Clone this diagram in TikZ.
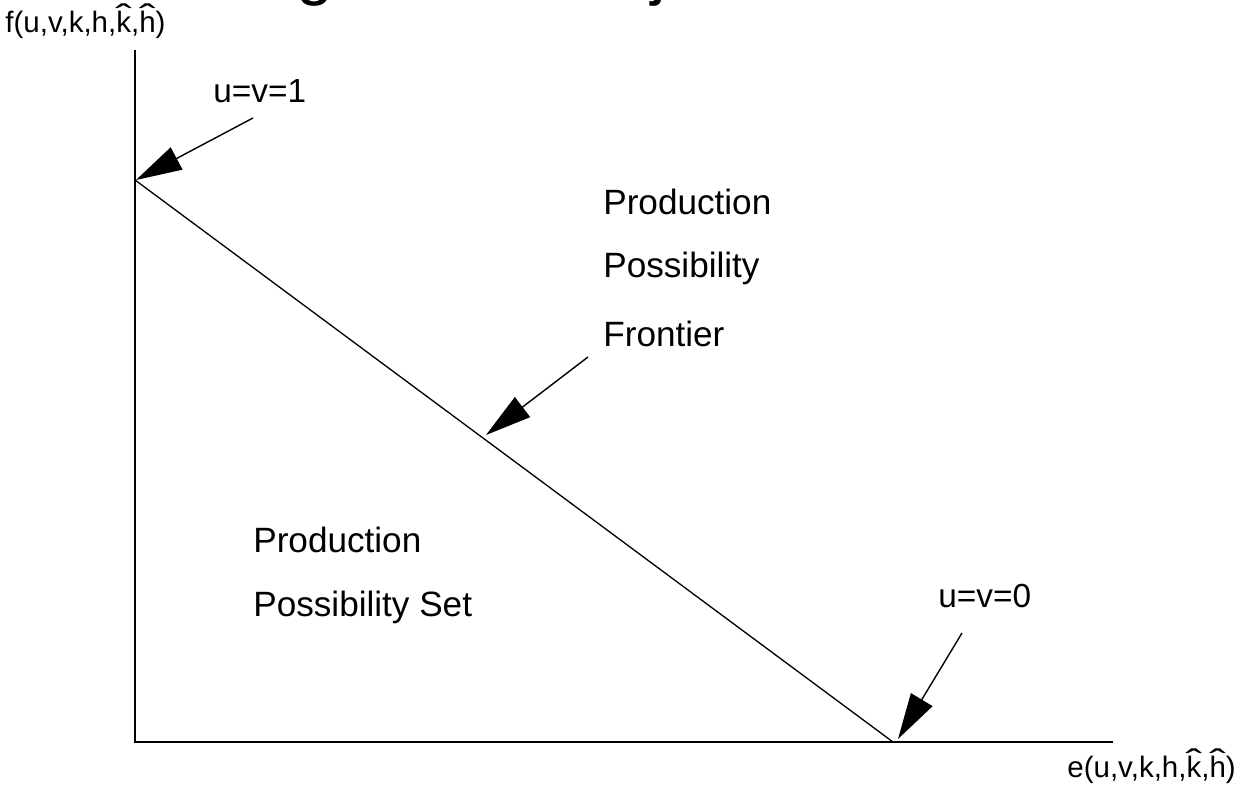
\documentclass[tikz,border=0pt]{standalone}
\usepackage{fontspec}
\setmainfont{Liberation Sans}
\usetikzlibrary{arrows.meta}
\newcommand{\hatl}[1]{\leavevmode\setbox0=\hbox{#1}\makebox[\wd0][c]{\makebox[0pt][c]{\raisebox{0.16em}{\scalebox{1.7}[1.15]{\char"02C6}}}\makebox[0pt][c]{#1}}}
\tikzset{
  axis/.style={line width=1.1pt},
  frontierline/.style={line width=0.75pt},
  pointer/.style={line width=0.8pt, -{Triangle[length=0.92cm, width=0.5cm]}},
  biglabel/.style={anchor=base west, inner sep=0pt, font=\fontsize{20}{24}\selectfont},
  ulabel/.style={anchor=base west, inner sep=0pt, font=\fontsize{19}{23}\selectfont},
  axlabel/.style={anchor=base west, inner sep=0pt, font=\fontsize{16.8}{20}\selectfont},
  titlefrag/.style={anchor=base west, inner sep=0pt, font=\fontsize{38}{44}\selectfont}
}
\begin{document}
\begin{tikzpicture}[x=0.02cm, y=-0.02cm]
\useasboundingbox (0,0) rectangle (1241,786);
\fill[white] (0,0) rectangle (1241,786);
% cut-off title fragments
\begin{scope}
\clip (0,0) rectangle (1241,786);
\node[titlefrag] (tg) at (296,-7) {g};
\node[titlefrag] (tj) at (651,-7) {j};
\end{scope}
% axes
\coordinate (O) at (135,742);
\coordinate (Ytop) at (135,50);
\coordinate (Xend) at (1113,742);
\coordinate (A) at (135,180);
\coordinate (B) at (893,742);
\draw[axis] (Ytop) -- (O) -- (Xend);
\draw[frontierline] (A) -- (B);
% labels
\node[axlabel] (flab) at (5,33) {f(u,v,k,h,\hatl{k},\hatl{h})};
\node[axlabel] (elab) at (1067,778) {e(u,v,k,h,\hatl{k},\hatl{h})};
\node[ulabel] (u1) at (213,103) {u=v=1};
\node[ulabel] (u0) at (938,608) {u=v=0};
\node[biglabel] (pp1) at (603,215) {Production};
\node[biglabel] (pp2) at (603,278) {Possibility};
\node[biglabel] (pp3) at (603,347) {Frontier};
\node[biglabel] (ps1) at (253,553) {Production};
\node[biglabel] (ps2) at (253,617) {Possibility Set};
% pointers
\coordinate (t1) at (253,118);
\coordinate (h1) at (136,180);
\coordinate (t2) at (588,357);
\coordinate (h2) at (486,435);
\coordinate (t3) at (962,633);
\coordinate (h3) at (898,739);
\draw[pointer] (t1) -- (h1);
\draw[pointer] (t2) -- (h2);
\draw[pointer] (t3) -- (h3);
\end{tikzpicture}
\end{document}
